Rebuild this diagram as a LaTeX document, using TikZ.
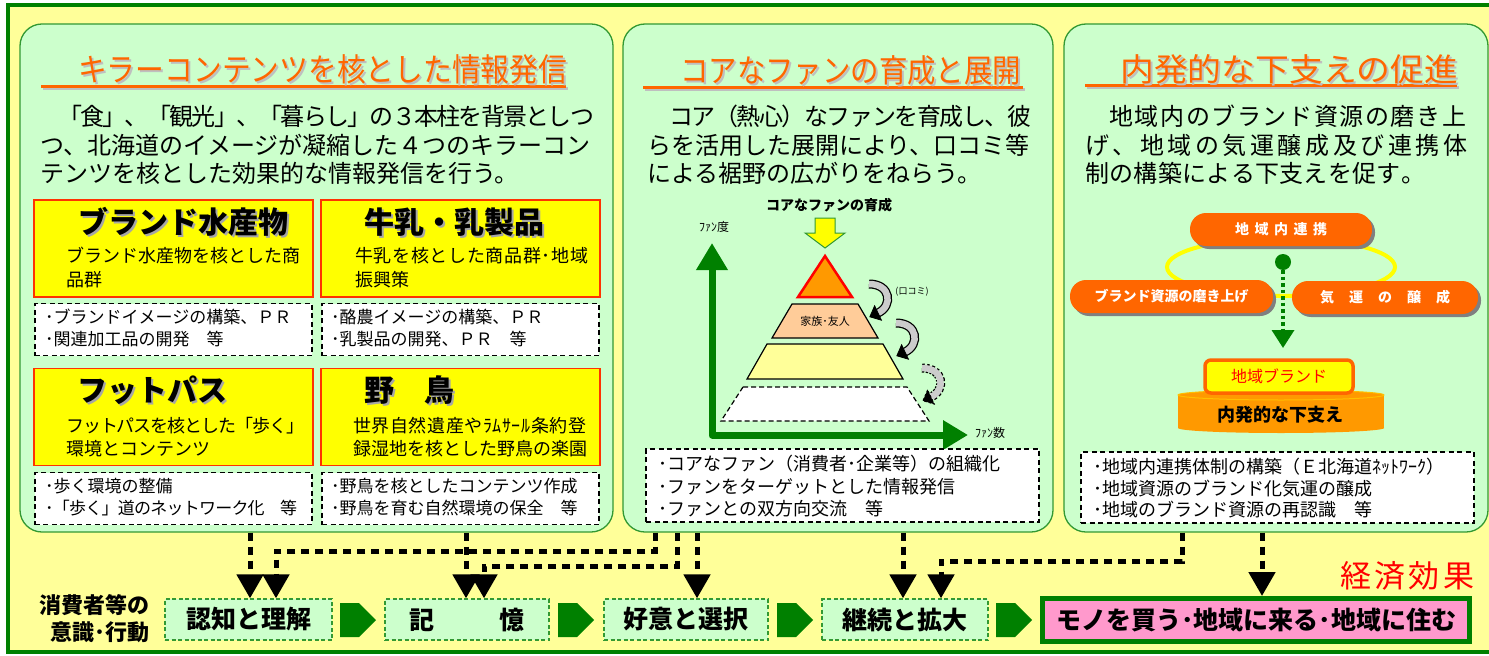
\documentclass[tikz,border=0pt]{standalone}
\usepackage{fontspec}
\setmainfont{Noto Sans CJK JP}
\usepackage{graphicx}
\usetikzlibrary{arrows.meta,shadows}
\definecolor{bgy}{HTML}{FFFF99}
\definecolor{dkg}{HTML}{008000}
\definecolor{pnl}{HTML}{CCFFCC}
\definecolor{pnlb}{HTML}{339933}
\definecolor{org}{HTML}{FF6600}
\definecolor{org2}{HTML}{FF9900}
\definecolor{ylw}{HTML}{FFFF00}
\definecolor{redb}{HTML}{FF3300}
\definecolor{pinkc}{HTML}{FF99CC}
\definecolor{peach}{HTML}{FFCC99}
\definecolor{ltyl}{HTML}{FFFF99}
\newcommand\fsz[1]{\fontsize{#1bp}{#1bp}\selectfont}
\makeatletter
\def\spr@A#1{\ifx#1\relax\else#1\hskip 0pt plus 1fil minus 1fil\expandafter\spr@A\fi}
\newcommand\spreadto[2]{\hbox to #1bp{\spr@A#2\relax\unskip}}
\makeatother
\newcommand\tline[5][]{\node[anchor=base west,inner sep=0pt,#1] (#2) at (#3) {\spreadto{#4}{#5}};}
\newcommand\tnat[4][]{\node[anchor=base west,inner sep=0pt,#1] (#2) at (#3) {#4};}
\newcommand\ttl[4]{%
 \node[anchor=base west,inner sep=0pt,font=\fsz{32},text=gray!50,xshift=2bp,yshift=-2bp] (#1s) at (#2) {\resizebox{#3bp}{\height}{#4}};
 \node[anchor=base west,inner sep=0pt,font=\fsz{32},text=org] (#1) at (#2) {\resizebox{#3bp}{\height}{#4}};}
\newcommand\btl[3]{%
 \node[anchor=base west,inner sep=0pt,font=\fsz{30}\bfseries,text=gray!70,xshift=2bp,yshift=-2bp] (#1s) at (#2) {#3};
 \node[anchor=base west,inner sep=0pt,font=\fsz{30}\bfseries] (#1) at (#2) {#3};}
\newcommand\carrow[3]{\begin{scope}[shift={(#1,#2)}]
 \draw[line width=9bp, #3] (0,0) .. controls (22,0) and (24,22) .. (9,29);
 \draw[line width=6.5bp, gray!40] (0,0) .. controls (22,0) and (24,22) .. (9,29);
 \draw[fill=white, line width=0.8bp, line join=miter, #3] (5.6,21.8) -- (0.85,32.8) -- (12.4,36.2) -- cycle;
\end{scope}}
\begin{document}
\begin{tikzpicture}[x=1bp,y=-1bp,
 panel/.style={draw=pnlb, line width=1.3bp, fill=pnl, rounded corners=22bp, inner sep=0pt, minimum height=508bp},
 kbox/.style={draw=redb, line width=1.5bp, fill=ylw, inner sep=0pt, minimum width=279bp, minimum height=97bp},
 dbox/.style={draw=black, line width=1.2bp, dash pattern=on 5bp off 3.5bp, fill=white, inner sep=0pt},
 gbox/.style={draw=pnlb, dash pattern=on 4bp off 2.5bp, line width=1.3bp, fill=pnl, minimum height=41bp, inner sep=0pt, font=\fsz{25}\bfseries},
 darr/.style={line width=5bp, dash pattern=on 8bp off 6bp, -{Triangle[width=26bp,length=24bp]}},
 pill/.style={fill=org, rounded corners=16bp, minimum height=33bp, inner sep=0pt, text=white, font=\fsz{14}\bfseries, drop shadow={shadow xshift=3bp, shadow yshift=-3bp, fill=gray, opacity=1}},
 body/.style={font=\fsz{24}},
 sub/.style={font=\fsz{18}},
 dtx/.style={font=\fsz{17}}]
\fill[white] (0,0) rectangle (1489,656);
\useasboundingbox (0,0) rectangle (1489,656);
\draw[draw=dkg, fill=bgy, line width=4bp] (8,5) rectangle (1520,652);

% panels
\node[panel, minimum width=593bp] (p1) at (316.5,278) {};
\node[panel, minimum width=430bp] (p2) at (838,278) {};
\node[panel, minimum width=424bp] (p3) at (1276,278) {};

% titles
\draw[gray!50, line width=3bp] (43,89) -- (568,89);
\draw[org, line width=3bp] (41,87) -- (566,87);
\draw[gray!50, line width=3bp] (645,90) -- (1025,90);
\draw[org, line width=3bp] (643,88) -- (1023,88);
\draw[gray!50, line width=3bp] (1087,88) -- (1459,88);
\draw[org, line width=3bp] (1085,86) -- (1457,86);
\ttl{t1}{78,82}{489}{キラーコンテンツを核とした情報発信}
\ttl{t2}{680,83}{341}{コアなファンの育成と展開}
\ttl{t3}{1120,82}{338}{内発的な下支えの促進}

% body text
\tline[body]{p1a}{58,126}{536}{「食」、「観光」、「暮らし」の３本柱を背景としつ}
\tnat[body]{p1b}{40,154}{つ、北海道のイメージが凝縮した４つのキラーコン}
\tnat[body]{p1c}{40,182}{テンツを核とした効果的な情報発信を行う。}
\tline[body]{p2a}{669,126}{362}{コア（熱心）なファンを育成し、彼}
\tnat[body]{p2b}{647,154}{らを活用した展開により、口コミ等}
\tnat[body]{p2c}{647,182}{による裾野の広がりをねらう。}
\tline[body]{p3a}{1109,126}{357}{地域内のブランド資源の磨き上}
\tline[body]{p3b}{1085,154}{382}{げ、地域の気運醸成及び連携体}
\tline[body]{p3c}{1085,182}{340}{制の構築による下支えを促す。}

% panel 1 boxes
\node[kbox] (kA) at (173.5,248.5) {};
\node[kbox] (kB) at (460.5,248.5) {};
\node[kbox] (kC) at (173.5,417) {};
\node[kbox] (kD) at (460.5,417) {};
\node[dbox, minimum width=277bp, minimum height=52bp] (dA) at (173.5,329.5) {};
\node[dbox, minimum width=277bp, minimum height=52bp] (dB) at (460.5,329.5) {};
\node[dbox, minimum width=277bp, minimum height=52bp] (dC) at (173.5,498.5) {};
\node[dbox, minimum width=277bp, minimum height=52bp] (dD) at (460.5,498.5) {};
\btl{kAt}{78,233.4}{ブランド水産物}
\btl{kBt}{364,233.4}{牛乳・乳製品}
\btl{kCt}{77,401.4}{フットパス}
\btl{kDt}{364,401.4}{野　鳥}
\tnat[sub]{kA1}{66,262}{ブランド水産物を核とした商}
\tnat[sub]{kA2}{66,286}{品群}
\tline[sub]{kB1}{355,262}{233}{牛乳を核とした商品群･地域}
\tnat[sub]{kB2}{355,286}{振興策}
\tline[sub]{kC1}{66,432}{238}{フットパスを核とした「歩く」}
\tnat[sub]{kC2}{66,455}{環境とコンテンツ}
\tline[sub]{kD1}{353,432}{233}{世界自然遺産やﾗﾑｻｰﾙ条約登}
\tnat[sub]{kD2}{353,455}{録湿地を核とした野鳥の楽園}
\tnat[dtx]{dA1}{45,323.5}{･ブランドイメージの構築、ＰＲ}
\tnat[dtx]{dA2}{45,345.5}{･関連加工品の開発　等}
\tnat[dtx]{dB1}{331,323.5}{･酪農イメージの構築、ＰＲ}
\tnat[dtx]{dB2}{331,345.5}{･乳製品の開発、ＰＲ　等}
\tnat[dtx]{dC1}{45,492.5}{･歩く環境の整備}
\tline[dtx]{dC2}{45,514.5}{252}{･「歩く」道のネットワーク化　等}
\tnat[dtx]{dD1}{331,492.5}{･野鳥を核としたコンテンツ作成}
\tnat[dtx]{dD2}{331,514.5}{･野鳥を育む自然環境の保全　等}

% panel 2 pyramid
\node[font=\fsz{14}\bfseries, inner sep=0pt] (core) at (829,205) {コアなファンの育成};
\draw[draw=pnlb, fill=ylw, line width=1bp, line join=miter] (815,218) -- (835,218) -- (835,233) -- (845,233) -- (825,248) -- (805,233) -- (815,233) -- cycle;
\draw[red, line width=2.5bp, fill=org2, line join=miter] (825,256) -- (852,297) -- (798,297) -- cycle;
\draw[line width=1.2bp, fill=peach] (792,304) -- (858,304) -- (878,338) -- (772,338) -- cycle;
\draw[line width=1.2bp, fill=ltyl] (767,344) -- (883,344) -- (903,379) -- (747,379) -- cycle;
\draw[line width=1.2bp, fill=white, dash pattern=on 5bp off 3bp] (743,387) -- (907,387) -- (929,421) -- (721,421) -- cycle;
\node[font=\fsz{11}, inner sep=0pt] (fam) at (825,321) {家族･友人};
\draw[dkg, line width=7bp, line join=round, {Triangle[width=30bp,length=27bp]}-{Triangle[width=28bp,length=25bp]}] (712,243) -- (712,435) -- (968,435);
\node[font=\fsz{12}, inner sep=0pt] (ydo) at (714,227) {ﾌｧﾝ度};
\node[font=\fsz{12}, inner sep=0pt] (xsu) at (990,433) {ﾌｧﾝ数};
\carrow{869}{284}{black}
\carrow{896}{323}{black}
\carrow{922}{368}{black, dash pattern=on 2.5bp off 2bp}
\node[font=\fsz{9}, inner sep=0pt] (kuchi) at (912,292) {(口コミ)};
\node[dbox, minimum width=393bp, minimum height=73bp] (d2) at (842.5,485.5) {};
\tnat[sub]{d21}{658,470}{･コアなファン（消費者･企業等）の組織化}
\tnat[sub]{d22}{658,493}{･ファンをターゲットとした情報発信}
\tnat[sub]{d23}{658,515}{･ファンとの双方向交流　等}

% panel 3 diagram
\draw[ylw, line width=4bp] (1281,267) ellipse [x radius=114, y radius=29];
\node[pill, minimum width=182bp] (pt) at (1281,229.5) {\spreadto{92}{地域内連携}};
\node[pill, minimum width=203bp] (pl) at (1171.5,296.5) {ブランド資源の磨き上げ};
\node[pill, minimum width=186bp] (pr) at (1385,297.5) {\spreadto{130}{気運の醸成}};
\node[circle, fill=dkg, minimum size=16bp, inner sep=0pt] (dot) at (1283,262) {};
\coordinate (dtip) at (1283,348);
\draw[dkg, line width=3.5bp, dash pattern=on 3.5bp off 3bp, -{Triangle[width=22bp,length=18bp]}] (dot.south) -- (dtip);
\fill[org2] (1178,395) rectangle (1384,428);
\fill[org2] (1281,428) ellipse [x radius=103, y radius=5];
\draw[fill=org2, draw=orange!50!yellow, line width=1bp] (1281,395) ellipse [x radius=103, y radius=5];
\node[font=\fsz{18}\bfseries, inner sep=0pt] (naih) at (1280,415) {内発的な下支え};
\node[draw=org, line width=3.5bp, fill=ylw, rounded corners=6bp, minimum width=148bp, minimum height=33bp, inner sep=0pt, text=red, font=\fsz{16}] (chb) at (1279,376.5) {地域ブランド};
\node[dbox, minimum width=393bp, minimum height=71bp] (d3) at (1277.5,487.5) {};
\tnat[sub]{d31}{1093,473}{･地域内連携体制の構築（Ｅ北海道ﾈｯﾄﾜｰｸ）}
\tnat[sub]{d32}{1093,495}{･地域資源のブランド化気運の醸成}
\tnat[sub]{d33}{1093,516}{･地域のブランド資源の再認識　等}

% bottom row
\node[anchor=east, font=\fsz{22}\bfseries, inner sep=0pt] (lab1) at (150,605) {消費者等の};
\node[anchor=east, font=\fsz{22}\bfseries, inner sep=0pt] (lab2) at (150,632) {意識･行動};
\node[gbox, minimum width=167bp] (b1) at (248.5,619.5) {認知と理解};
\node[gbox, minimum width=164bp] (b2) at (467,619.5) {記\hspace{66bp}憶};
\node[gbox, minimum width=164bp] (b3) at (686,619.5) {好意と選択};
\node[gbox, minimum width=166bp] (b4) at (905,619.5) {継続と拡大};
\node[draw=dkg, line width=5bp, fill=pinkc, minimum width=427bp, minimum height=43bp, inner sep=0pt, font=\fsz{25}\bfseries] (b5) at (1256,620) {モノを買う･地域に来る･地域に住む};
\node[font=\fsz{31}, text=red, inner sep=0pt] (keizai) at (1407,576) {\spreadto{134}{経済効果}};
\foreach \x in {340,558,777,996}
  \fill[dkg] (\x,603) -- ++(19,0) -- ++(17,17) -- ++(-17,17) -- ++(-19,0) -- cycle;

% dotted arrows
\coordinate (a1) at (250,0);
\coordinate (a2) at (655,551);
\coordinate (a2b) at (276,551);
\coordinate (a3) at (466,0);
\coordinate (a4) at (677,566);
\coordinate (a4b) at (484,566);
\coordinate (a5) at (697,0);
\coordinate (a6) at (903,0);
\coordinate (a7) at (1182,561);
\coordinate (a7b) at (941,561);
\coordinate (a8) at (1262,0);
\draw[darr] (p1.south -| a1) -- (a1 |- b1.north);
\draw[darr] (p2.south -| a2) -- (a2) -- (a2b) -- (a2b |- b1.north);
\draw[darr] (p1.south -| a3) -- (a3 |- b2.north);
\draw[darr] (p2.south -| a4) -- (a4) -- (a4b) -- (a4b |- b2.north);
\draw[darr] (p2.south -| a5) -- (a5 |- b3.north);
\draw[darr] (p2.south -| a6) -- (a6 |- b4.north);
\draw[darr] (p3.south -| a7) -- (a7) -- (a7b) -- (a7b |- b4.north);
\draw[darr] (p3.south -| a8) -- (a8 |- b5.north);
\end{tikzpicture}
\end{document}
